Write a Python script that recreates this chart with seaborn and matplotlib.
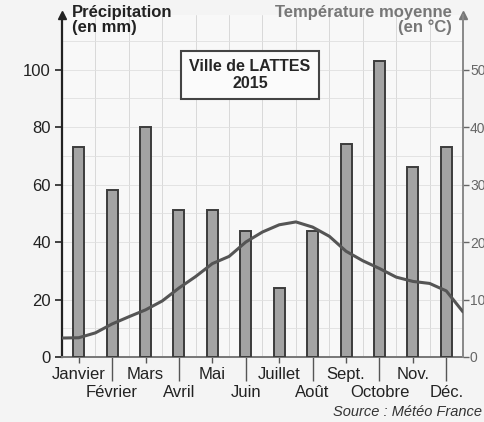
import numpy as np
import pandas as pd
import matplotlib
matplotlib.use("Agg")
import matplotlib.pyplot as plt
import seaborn as sns

months = ["Janvier", "Février", "Mars", "Avril", "Mai", "Juin",
          "Juillet", "Août", "Sept.", "Octobre", "Nov.", "Déc."]
precip_mm = [73, 58, 80, 51, 51, 44, 24, 44, 74, 103, 66, 73]

# mean temperature (°C) read every half month, from the left edge to the right edge
temp_c = [3.3, 3.35, 4.2, 5.75, 7.0, 8.2, 9.75, 12.0, 14.0, 16.25, 17.5, 20.0,
          21.75, 23.0, 23.5, 22.6, 21.0, 18.4, 16.75, 15.4, 13.9, 13.15, 12.8, 11.5, 7.85]

sns.set_style("white")
plt.rcParams["font.family"] = ["Liberation Sans", "DejaVu Sans"]

fig = plt.figure(figsize=(4.85, 4.22), dpi=100, facecolor="#f4f4f4")
ax = fig.add_axes([62 / 485, 65 / 422, 401 / 485, 342 / 422])
ax.set_facecolor("#f8f8f8")

df = pd.DataFrame({"mois": months, "pluie": precip_mm})
sns.barplot(data=df, x="mois", y="pluie", ax=ax, width=0.33,
            color="#a3a3a3", edgecolor="#3c3c3c", linewidth=1.4,
            saturation=1, zorder=3)

# faint grid
for b in np.arange(0.5, 11.5, 1.0):
    ax.axvline(b, color="#d9d9d9", lw=0.7, zorder=0)
for h in range(10, 120, 10):
    ax.axhline(h, color="#e0e0e0", lw=0.6, zorder=0)

ax.set_xlim(-0.5, 11.5)
ax.set_ylim(0, 119)
ax.set_yticks(range(0, 101, 20))
ax.tick_params(axis="y", direction="out", length=5, width=1.2, labelsize=12,
               pad=3, colors="#222", left=True)
ax.set_xlabel("")
ax.set_ylabel("")

# two rows of month labels
ax.set_xticks(range(0, 12, 2), months[0::2])
ax.set_xticks(range(1, 12, 2), months[1::2], minor=True)
ax.tick_params(axis="x", which="major", length=4, width=1, color="#555",
               labelsize=12, pad=3, labelcolor="#222", bottom=True)
ax.tick_params(axis="x", which="minor", length=17, width=1, color="#555",
               labelsize=12, pad=3, labelcolor="#222", bottom=True)

for s in ["top", "right"]:
    ax.spines[s].set_visible(False)
ax.spines["left"].set_color("#222")
ax.spines["left"].set_linewidth(1.6)
ax.spines["bottom"].set_color("#777")
ax.spines["bottom"].set_linewidth(1.4)
ax.plot(0, 1, marker="^", color="#222", markersize=6, transform=ax.transAxes,
        clip_on=False)

ax2 = ax.twinx()
pos = np.arange(-0.5, 11.6, 0.5)
sns.lineplot(x=pos, y=temp_c, ax=ax2, color="#555", lw=2.2, zorder=4)
ax2.set_ylim(0, 59.5)
ax2.set_yticks(range(0, 51, 10))
ax2.tick_params(axis="y", direction="out", length=4, width=1, labelsize=10,
                pad=1, colors="#666")
for s in ["top", "left", "bottom"]:
    ax2.spines[s].set_visible(False)
ax2.spines["right"].set_color("#888")
ax2.spines["right"].set_linewidth(1.4)
ax2.plot(1, 1, marker="^", color="#777", markersize=6, transform=ax2.transAxes,
         clip_on=False)

fig.text(72 / 485, 1 - 20 / 422, "Précipitation\n(en mm)", fontsize=12,
         fontweight="bold", color="#222", ha="left", va="center", linespacing=0.95)
fig.text(452 / 485, 1 - 20 / 422, "Température moyenne\n(en °C)", fontsize=12,
         fontweight="bold", color="#777", ha="right", va="center",
         multialignment="right", linespacing=0.95)

ax.text(0.469, 0.825, "Ville de LATTES\n2015", transform=ax.transAxes,
        fontsize=11.5, fontweight="bold", ha="center", va="center",
        multialignment="center", linespacing=1.2, zorder=6,
        bbox=dict(boxstyle="square,pad=0.5", fc="#fbfbfb", ec="#444", lw=1.5))

fig.text(482 / 485, 1 - 412 / 422, "Source : Météo France", fontsize=10.5,
         style="italic", color="#333", ha="right", va="center")

fig.savefig("out.png", dpi=100, facecolor=fig.get_facecolor())
